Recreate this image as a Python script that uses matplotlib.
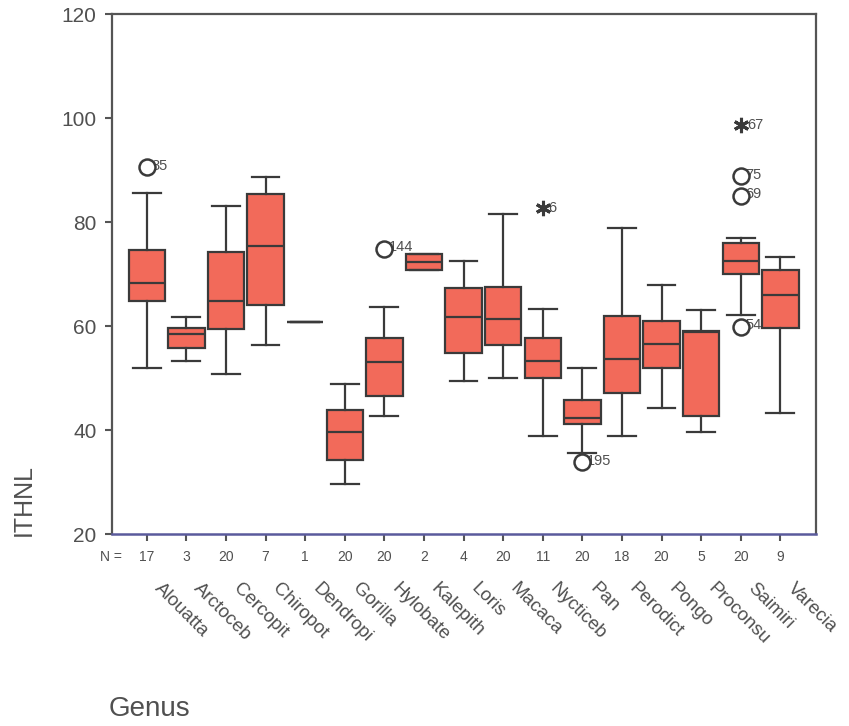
import matplotlib
matplotlib.use("Agg")
import matplotlib.pyplot as plt
import matplotlib.transforms as mtransforms

plt.rcParams['font.family'] = ['Liberation Sans', 'DejaVu Sans']

# ---------------- data ----------------
genus = ["Alouatta", "Arctoceb", "Cercopit", "Chiropot", "Dendropi", "Gorilla",
         "Hylobate", "Kalepith", "Loris", "Macaca", "Nycticeb", "Pan",
         "Perodict", "Pongo", "Proconsu", "Saimiri", "Varecia"]
n_counts = [17, 3, 20, 7, 1, 20, 20, 2, 4, 20, 11, 20, 18, 20, 5, 20, 9]
whisker_low = [52.0, 53.3, 50.7, 56.4, 60.7, 29.6, 42.7, 70.8, 49.5, 50.0,
               38.9, 35.5, 38.9, 44.2, 39.6, 62.1, 43.2]
q1 = [64.8, 55.7, 59.4, 64.0, 60.7, 34.3, 46.5, 70.8, 54.9, 56.4,
      50.0, 41.1, 47.2, 51.9, 42.7, 70.0, 59.7]
median = [68.3, 58.4, 64.8, 75.4, 60.7, 39.6, 53.0, 72.4, 61.7, 61.4,
          53.3, 42.4, 53.7, 56.5, 58.8, 72.5, 66.0]
q3 = [74.7, 59.7, 74.3, 85.3, 60.7, 43.8, 57.6, 73.8, 67.4, 67.5,
      57.7, 45.7, 62.0, 61.0, 59.0, 75.9, 70.8]
whisker_high = [85.5, 61.7, 83.0, 88.7, 60.7, 48.8, 63.6, 73.8, 72.5, 81.6,
                63.2, 51.9, 78.9, 67.8, 63.1, 77.0, 73.2]

# outliers (circles) and extremes (asterisks): genus index, value, case label
outlier_genus = [0, 6, 11, 15, 15, 15]
outlier_value = [90.5, 74.9, 33.8, 59.9, 88.8, 85.0]
outlier_case = ["85", "144", "195", "54", "75", "69"]
extreme_genus = [10, 15]
extreme_value = [82.7, 98.7]
extreme_case = ["6", "67"]

y_ticks = [20, 40, 60, 80, 100, 120]

# ---------------- style ----------------
line_col = "#3a3a3a"
box_fill = "#F26A5A"
text_col = "#505050"

fig = plt.figure(figsize=(8.49, 7.26), dpi=100)
ax = fig.add_axes([112 / 849, 1 - 534 / 726, (816 - 112) / 849, (534 - 14) / 726])

stats = []
for i in range(len(genus)):
    stats.append(dict(med=median[i], q1=q1[i], q3=q3[i],
                      whislo=whisker_low[i], whishi=whisker_high[i],
                      fliers=[], label=genus[i]))

positions = list(range(len(genus)))
ax.bxp(stats, positions=positions, widths=0.92, patch_artist=True,
       showfliers=False, manage_ticks=False,
       boxprops=dict(facecolor=box_fill, edgecolor=line_col, linewidth=1.6),
       medianprops=dict(color=line_col, linewidth=1.6),
       whiskerprops=dict(color=line_col, linewidth=1.6),
       capprops=dict(color=line_col, linewidth=1.6),
       capwidths=0.7)

off = mtransforms.offset_copy(ax.transData, fig=fig, x=4.5, y=1.5, units='dots')
for g, v, c in zip(outlier_genus, outlier_value, outlier_case):
    ax.text(g, v, c, transform=off, fontsize=10.5, color=text_col,
            ha='left', va='center', zorder=4)
    ax.plot(g, v, marker='o', markersize=11.5, markerfacecolor='white',
            markeredgecolor=line_col, markeredgewidth=1.8, zorder=5,
            linestyle='none')
off2 = mtransforms.offset_copy(ax.transData, fig=fig, x=6, y=0, units='dots')
for g, v, c in zip(extreme_genus, extreme_value, extreme_case):
    ax.text(g, v, c, transform=off2, fontsize=10.5, color=text_col,
            ha='left', va='center', zorder=4)
    ax.plot(g, v, marker=(6, 2, 0), markersize=11, markeredgecolor=line_col,
            markerfacecolor=line_col, markeredgewidth=2.2, zorder=5,
            linestyle='none')

ax.set_xlim(-0.877, 16.9)
ax.set_ylim(20, 120)
ax.set_yticks(y_ticks)
ax.set_yticklabels([str(t) for t in y_ticks], fontsize=15, color=text_col)
ax.set_xticks(positions)
ax.set_xticklabels([])
ax.tick_params(axis='y', direction='out', length=5, width=1.5, color="#555555", pad=6)
ax.tick_params(axis='x', direction='out', length=5, width=1.5, color="#555555")

for s in ['left', 'top', 'right']:
    ax.spines[s].set_color("#555555")
    ax.spines[s].set_linewidth(1.6)
ax.spines['bottom'].set_color("#5a5a9c")
ax.spines['bottom'].set_linewidth(1.8)

blend = mtransforms.blended_transform_factory(ax.transData, ax.transAxes)
ax.text(-0.62, -0.0437, "N =", transform=blend, ha='right', va='center',
        fontsize=10, color=text_col)
for i, (name, n) in enumerate(zip(genus, n_counts)):
    ax.text(i, -0.0437, str(n), transform=blend, ha='center', va='center',
            fontsize=10, color=text_col)
    ax.text(i + 0.1, -0.088, name, transform=blend, ha='left', va='top',
            rotation=-45, fontsize=13.5, color=text_col)

fig.text(24 / 849, 1 - 500 / 726, "ITHNL", rotation=90, ha='center', va='center',
         fontsize=18, color=text_col)
fig.text(109 / 849, 1 - 716 / 726, "Genus", ha='left', va='baseline',
         fontsize=20, color=text_col)

fig.savefig("out.png", dpi=100, facecolor='white')
